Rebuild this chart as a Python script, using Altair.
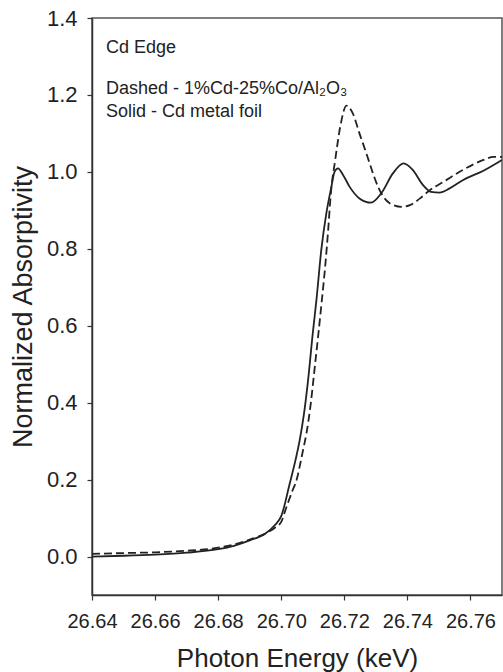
import altair as alt
import pandas as pd

# Cd K-edge XANES: Cd metal foil (solid) vs 1%Cd-25%Co/Al2O3 (dashed)
foil_energy = [26.640, 26.650, 26.660, 26.670, 26.680, 26.685, 26.690, 26.695, 26.698,
               26.700, 26.7027, 26.7045, 26.7058, 26.7072, 26.7084, 26.7100, 26.7112,
               26.7127, 26.7143, 26.7159, 26.7169, 26.7180, 26.7196, 26.7217, 26.7248,
               26.7285, 26.7317, 26.7354, 26.7388, 26.7417, 26.7449, 26.7475, 26.7502,
               26.7534, 26.7577, 26.7641, 26.7700]
foil_abs = [0.000, 0.002, 0.005, 0.010, 0.019, 0.028, 0.042, 0.060, 0.082,
            0.105, 0.190, 0.250, 0.300, 0.370, 0.450, 0.580, 0.670,
            0.797, 0.892, 0.961, 1.000, 1.009, 0.992, 0.961, 0.931,
            0.920, 0.944, 0.996, 1.022, 1.005, 0.966, 0.948, 0.946,
            0.957, 0.979, 1.003, 1.031]

cat_energy = [26.640, 26.650, 26.660, 26.670, 26.680, 26.685, 26.690, 26.695, 26.698,
              26.700, 26.7015, 26.7035, 26.7049, 26.7060, 26.7070, 26.7080, 26.7094,
              26.7106, 26.7118, 26.7128, 26.7140, 26.7148, 26.7158, 26.7171, 26.7187,
              26.7207, 26.7227, 26.7248, 26.7270, 26.7291, 26.7307, 26.7324, 26.7345,
              26.7382, 26.7410, 26.7440, 26.7472, 26.7514, 26.7578, 26.7641, 26.7673,
              26.7700]
cat_abs = [0.007, 0.009, 0.011, 0.015, 0.023, 0.031, 0.044, 0.060, 0.075,
           0.090, 0.125, 0.170, 0.200, 0.240, 0.280, 0.320, 0.400,
           0.490, 0.580, 0.660, 0.760, 0.840, 0.950, 1.030, 1.117,
           1.172, 1.152, 1.100, 1.048, 0.996, 0.961, 0.935, 0.918,
           0.909, 0.914, 0.931, 0.953, 0.974, 1.006, 1.031, 1.039,
           1.039]

x_ticks = [26.64, 26.66, 26.68, 26.70, 26.72, 26.74, 26.76]
y_ticks = [0.0, 0.2, 0.4, 0.6, 0.8, 1.0, 1.2, 1.4]

notes = ["Cd Edge", "Dashed - 1%Cd-25%Co/Al₂O₃", "Solid - Cd metal foil"]
note_x = [26.6444, 26.6444, 26.6444]
note_y = [1.309, 1.202, 1.1425]

foil = pd.DataFrame({"energy": foil_energy, "absorb": foil_abs})
cat = pd.DataFrame({"energy": cat_energy, "absorb": cat_abs})
note_df = pd.DataFrame({"label": notes, "x": note_x, "y": note_y})

FONT = "Liberation Sans"
INK = "#222222"

x_enc = alt.X(
    "energy:Q",
    scale=alt.Scale(domain=[26.64, 26.77], nice=False, zero=False),
    axis=alt.Axis(
        title="Photon Energy (keV)", values=x_ticks, format=".2f",
        labelFontSize=20, labelBaseline="alphabetic", labelPadding=27,
        labelOverlap=False, labelFlush=False,
        titleFontSize=26, titleBaseline="alphabetic", titleY=71,
        titleFontWeight="normal",
    ),
)
y_enc = alt.Y(
    "absorb:Q",
    scale=alt.Scale(domain=[-0.1, 1.4], nice=False, zero=False),
    axis=alt.Axis(
        title="Normalized Absorptivity", values=y_ticks, format=".1f",
        labelFontSize=22, labelPadding=10, labelOverlap=False, labelFlush=False,
        titleFontSize=27, titleBaseline="alphabetic", titleX=-61,
        titleFontWeight="normal",
    ),
)

solid = alt.Chart(foil).mark_line(
    color=INK, strokeWidth=1.8, interpolate="monotone", clip=True
).encode(x=x_enc, y=y_enc)

dashed = alt.Chart(cat).mark_line(
    color=INK, strokeWidth=1.8, strokeDash=[8, 4], interpolate="monotone", clip=True
).encode(x="energy:Q", y="absorb:Q")

labels = alt.Chart(note_df).mark_text(
    align="left", baseline="alphabetic", fontSize=18, font=FONT, color=INK
).encode(x="x:Q", y="y:Q", text="label:N")

chart = (
    alt.layer(solid, dashed, labels)
    .properties(
        width=410, height=577,
        padding={"left": 92, "top": 18, "right": 1, "bottom": 77},
        autosize="none",
    )
    .configure(font=FONT)
    .configure_view(stroke="#555555", strokeWidth=1.5)
    .configure_axis(
        grid=False, domainColor="#333333", domainWidth=1.5,
        tickColor="#333333", tickSize=5, tickWidth=1.2,
        labelColor=INK, titleColor=INK, labelFont=FONT, titleFont=FONT,
    )
)

chart.save("out.html", embed_options={"renderer": "svg", "actions": False})
